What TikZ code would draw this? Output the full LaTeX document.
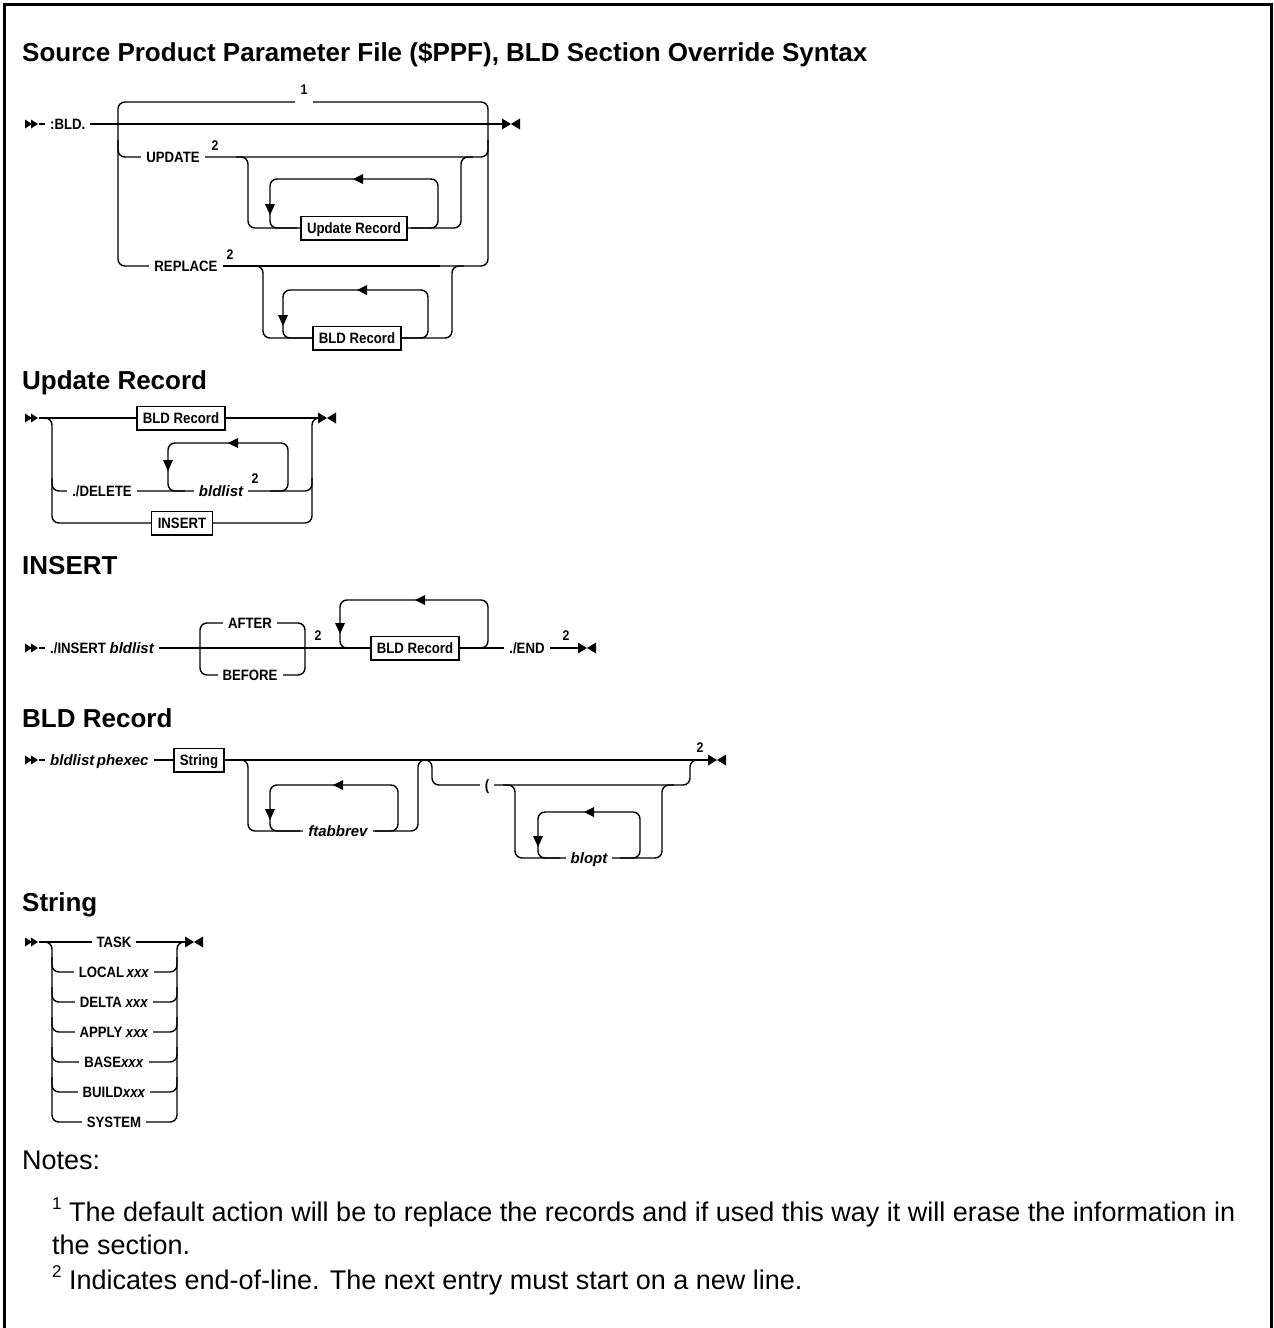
\documentclass[tikz,border=0pt]{standalone}
\usepackage{fontspec}
\setmainfont{Liberation Sans}
\newfontfamily\cond[FakeStretch=0.88]{Liberation Sans}
\newfontfamily\varfont{Liberation Sans}
\tikzset{
  rail/.style={line width=1.4pt, rounded corners=7pt},
  lbl/.style={font=\cond\bfseries\fontsize{15}{18}\selectfont, inner ysep=0pt, inner xsep=5pt, text height=10.7pt, text depth=0pt, fill=white},
  vlbl/.style={lbl, font=\varfont\bfseries\itshape\fontsize{15}{18}\selectfont},
  kbox/.style={draw, line width=1.3pt, fill=white, font=\cond\bfseries\fontsize{15}{18}\selectfont, inner xsep=6pt, text height=10.7pt, text depth=0pt, inner ysep=6.5pt},
  noteno/.style={font=\cond\bfseries\fontsize{14}{16}\selectfont, inner sep=0pt},
  head/.style={font=\bfseries\fontsize{26}{30}\selectfont, anchor=base west, inner sep=0pt},
  notetext/.style={font=\fontsize{27}{33}\selectfont, anchor=base west, inner sep=0pt},
  startmk/.pic={\fill (0,-4.5)--(7,0)--(0,4.5)--cycle; \fill (6,-4.5)--(13,0)--(6,4.5)--cycle;},
  endmk/.pic={\fill (0,-5.5)--(9,0)--(0,5.5)--cycle; \fill (18,-5.5)--(9,0)--(18,5.5)--cycle;},
  larr/.pic={\fill (-5,0)--(5,-5)--(5,5)--cycle;},
  darr/.pic={\fill (0,6)--(-5,-5)--(5,-5)--cycle;},
}
\newcommand\supnum[1]{\raisebox{0.42em}{\fontsize{17}{17}\selectfont #1}}
\begin{document}
\begin{tikzpicture}[x=1pt,y=-1pt]
\useasboundingbox (0,0) rectangle (1274,1328);
% frame
\draw[line width=3pt] (4,1335) -- (4,4) -- (1271,4) -- (1271,1335);
\node[head] (title) at (22,61) {Source Product Parameter File (\$PPF), BLD Section Override Syntax};

% ===== diagram 1 =====
\pic at (25,124) {startmk};
\draw[rail] (39,124) -- (502,124);
\draw[rail] (295,102) -- (118,102) -- (118,266) -- (150,266);
\draw[rail] (313,102) -- (488,102) -- (488,266) -- (440,266);
\draw[rail] (118,140) -- (118,157) -- (488,157) -- (488,140);
\draw[rail] (150,266) -- (440,266);
% update sub
\draw[rail] (236,157) -- (248,157) -- (248,228) -- (461,228) -- (461,157) -- (473,157);
\draw[rail] (297,228) -- (270,228) -- (270,179) -- (438,179) -- (438,228) -- (411,228);
\pic at (358,179) {larr};
\pic at (270,209) {darr};
% replace sub
\draw[rail] (251,266) -- (263,266) -- (263,338) -- (452,338) -- (452,266) -- (464,266);
\draw[rail] (312,338) -- (283,338) -- (283,290) -- (428,290) -- (428,338) -- (402,338);
\pic at (362,290) {larr};
\pic at (283,320) {darr};
\node[lbl, anchor=west] (bld) at (45,124) {:BLD.};
\node[noteno] (n1) at (304,90) {1};
\node[lbl] (upd) at (173,157) {UPDATE};
\node[noteno] (n2a) at (215,146) {2};
\node[kbox] (ur) at (354,228) {Update Record};
\node[lbl] (rep) at (186,266) {REPLACE};
\node[noteno] (n2b) at (230,255) {2};
\node[kbox] (br1) at (357,338) {BLD Record};
\pic at (502,124) {endmk};

% ===== Update Record =====
\node[head] (h2) at (22,389) {Update Record};
\pic at (25,418) {startmk};
\draw[rail] (39,418) -- (320,418);
\draw[rail] (42,418) -- (52,418) -- (52,523) -- (312,523) -- (312,418) -- (320,418);
\draw[rail] (52,478) -- (52,491) -- (312,491) -- (312,478);
\draw[rail] (185,491) -- (168,491) -- (168,443) -- (288,443) -- (288,491) -- (270,491);
\pic at (233,443) {larr};
\pic at (168,465) {darr};
\node[kbox] (br2) at (181,418) {BLD Record};
\node[lbl] (del) at (102,491) {./DELETE};
\node[vlbl] (bl1) at (221,491) {bldlist};
\node[noteno] (n2c) at (255,479) {2};
\node[kbox] (ins) at (182,523) {INSERT};
\pic at (318,418) {endmk};

% ===== INSERT =====
\node[head] (h3) at (22,574) {INSERT};
\pic at (25,648) {startmk};
\draw[rail] (39,648) -- (578,648);
\draw[rail] (200,623) rectangle (305,675);
\draw[rail] (370,648) -- (340,648) -- (340,600) -- (488,600) -- (488,648) -- (460,648);
\pic at (420,600) {larr};
\pic at (340,628) {darr};
\node[lbl, anchor=west] (insk) at (45,648) {./INSERT {\varfont\itshape bldlist}};
\node[lbl] (aft) at (250,623) {AFTER};
\node[lbl] (bef) at (250,675) {BEFORE};
\node[noteno] (n2d) at (318,636) {2};
\node[kbox] (br3) at (415,648) {BLD Record};
\node[lbl] (endk) at (527,648) {./END};
\node[noteno] (n2e) at (566,636) {2};
\pic at (578,648) {endmk};

% ===== BLD Record =====
\node[head] (h4) at (22,727) {BLD Record};
\pic at (25,760) {startmk};
\draw[rail] (39,760) -- (708,760);
\draw[rail] (236,760) -- (248,760) -- (248,831) -- (418,831) -- (418,760) -- (430,760);
\draw[rail] (300,831) -- (270,831) -- (270,785) -- (398,785) -- (398,831) -- (375,831);
\pic at (338,785) {larr};
\pic at (270,814) {darr};
\draw[rail] (420,760) -- (432,760) -- (432,785) -- (690,785) -- (690,760) -- (702,760);
\draw[rail] (503,785) -- (515,785) -- (515,858) -- (662,858) -- (662,785) -- (674,785);
\draw[rail] (560,858) -- (538,858) -- (538,812) -- (640,812) -- (640,858) -- (620,858);
\pic at (589,812) {larr};
\pic at (538,841) {darr};
\node[vlbl, anchor=west] (bp) at (45,760) {bldlist\,phexec};
\node[kbox] (str) at (199,760) {String};
\node[vlbl] (fta) at (338,831) {ftabbrev};
\node[lbl] (par) at (487,785) {(};
\node[vlbl] (blo) at (589,858) {blopt};
\node[noteno] (n2f) at (700,748) {2};
\pic at (708,760) {endmk};

% ===== String =====
\node[head] (h5) at (22,911) {String};
\pic at (25,942) {startmk};
\draw[rail] (39,942) -- (185,942);
\draw[rail] (42,942) -- (52,942) -- (52,1122) -- (177,1122) -- (177,942) -- (185,942);
\foreach \yy in {972,1002,1032,1062,1092}{
  \draw[rail] (52,\yy-15) -- (52,\yy) -- (177,\yy) -- (177,\yy-15);
}
\node[lbl] (s1) at (114,942) {TASK};
\node[lbl] (s2) at (114,972) {LOCAL\,\textit{xxx}};
\node[lbl] (s3) at (114,1002) {DELTA \textit{xxx}};
\node[lbl] (s4) at (114,1032) {APPLY \textit{xxx}};
\node[lbl] (s5) at (114,1062) {BASE\textit{xxx}};
\node[lbl] (s6) at (114,1092) {BUILD\textit{xxx}};
\node[lbl] (s7) at (114,1122) {SYSTEM};
\pic at (185,942) {endmk};

% ===== Notes =====
\node[notetext] (notes) at (22,1169) {Notes:};
\node[notetext] (note1) at (52,1221) {\supnum{1} The default action will be to replace the records and if used this way it will erase the information in};
\node[notetext] (note1b) at (52,1254) {the section.};
\node[notetext] (note2) at (52,1289) {\supnum{2} Indicates end-of-line. The next entry must start on a new line.};
\end{tikzpicture}
\end{document}
